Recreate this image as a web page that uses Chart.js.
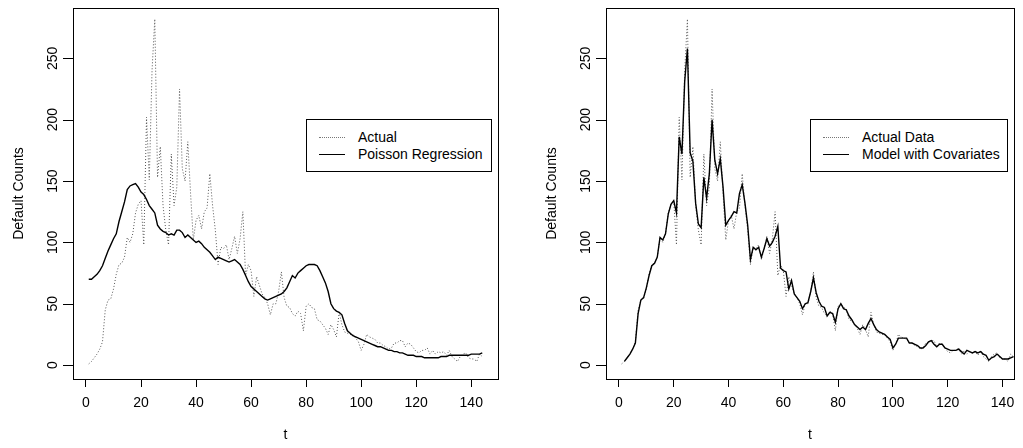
<!DOCTYPE html>
<html>
<head>
<meta charset="utf-8">
<script src="https://cdn.jsdelivr.net/npm/chart.js@4.4.0/dist/chart.umd.min.js"></script>
<style>
  html, body { margin: 0; padding: 0; background: #fff; }
  #wrap { position: relative; width: 1023px; height: 448px; overflow: hidden; font-family: "Liberation Sans", Arial, sans-serif; }
  .pane { position: absolute; top: 0; width: 512px; height: 448px; }
  .legend { position: absolute; box-sizing: border-box; border: 1px solid #000; background: #fff; font-size: 14px; color: #000; }
  .legend .row { position: absolute; white-space: nowrap; line-height: 16px; }
  .legend .sample { position: absolute; width: 26px; height: 0; }
  .legend .dots { border-top: 1px dotted #777; }
  .legend .solid { border-top: 1px solid #000; }
</style>
</head>
<body>
<div id="wrap">
  <div class="pane" style="left:0"><canvas id="left"></canvas></div>
  <div class="pane" style="left:511px"><canvas id="right"></canvas></div>

  <div class="legend" style="left:306px; top:119px; width:186px; height:53px;">
    <div class="sample dots" style="left:12px; top:17px;"></div>
    <div class="row" style="left:51px; top:9px;">Actual</div>
    <div class="sample solid" style="left:12px; top:34px;"></div>
    <div class="row" style="left:51px; top:26px;">Poisson Regression</div>
  </div>

  <div class="legend" style="left:810px; top:119px; width:198px; height:53px;">
    <div class="sample dots" style="left:12px; top:17px;"></div>
    <div class="row" style="left:51px; top:9px;">Actual Data</div>
    <div class="sample solid" style="left:12px; top:34px;"></div>
    <div class="row" style="left:51px; top:26px;">Model with Covariates</div>
  </div>
</div>

<script>
// monthly default counts, t = 1..144
const actual = [
  1, 3, 6, 9, 13, 19, 45, 53, 54, 62,
  74, 82, 83, 88, 104, 100, 107, 124, 131, 134,
  98, 202, 151, 240, 282, 153, 178, 130, 110, 98,
  172, 130, 145, 225, 160, 150, 182, 140, 102, 118,
  122, 111, 125, 128, 156, 130, 110, 82, 96, 95,
  98, 86, 95, 105, 91, 103, 125, 73, 82, 77,
  56, 72, 65, 58, 55, 50, 41, 50, 50, 60,
  76, 55, 48, 47, 42, 40, 44, 42, 28, 48,
  50, 47, 46, 37, 36, 33, 30, 25, 33, 29,
  23, 43, 33, 27, 26, 25, 25, 22, 19, 12,
  17, 25, 23, 22, 21, 18, 18, 16, 15, 13,
  14, 18, 18, 20, 20, 15, 18, 17, 14, 11,
  10, 12, 12, 14, 9, 12, 9, 11, 10, 11,
  8, 12, 7, 5, 3, 7, 9, 10, 6, 5,
  5, 3, 9, 7
];

// fitted Poisson regression, t = 1..144
const poisson = [
  70, 70, 72, 74, 77, 81, 87, 93, 98, 103,
  107, 117, 125, 133, 143, 146, 147, 148, 145, 141,
  139, 135, 130, 127, 124, 114, 111, 109, 108, 106,
  107, 106, 110, 110, 108, 104, 106, 104, 102, 100,
  101, 99, 96, 94, 92, 89, 86, 88, 87, 86,
  85, 84, 85, 86, 84, 82, 78, 73, 68, 64,
  62, 60, 58, 56, 54, 53, 54, 55, 56, 57,
  58, 60, 63, 68, 73, 71, 75, 77, 79, 81,
  82, 82, 82, 81, 77, 72, 67, 60, 50, 46,
  44, 43, 41, 34, 28, 26, 24, 23, 22, 21,
  20, 19, 18, 17, 16, 15, 15, 14, 13, 12,
  12, 11, 11, 10, 10, 9, 8, 8, 8, 7,
  7, 7, 6, 6, 6, 6, 6, 6, 7, 7,
  7, 8, 8, 8, 8, 8, 8, 8, 8, 9,
  9, 9, 9, 10
];

// model with covariates, starts at t = 2
const covStart = 2;
const covariates = [
  3, 6, 9, 13, 18, 42, 53, 55, 63,
  73, 81, 83, 88, 104, 102, 107, 123, 131, 134,
  124, 186, 172, 231, 258, 173, 166, 132, 115, 112,
  153, 136, 156, 200, 167, 156, 168, 145, 114, 118,
  121, 125, 124, 140, 147, 132, 114, 86, 96, 94,
  96, 88, 95, 103, 97, 100, 105, 113, 79, 77,
  76, 62, 69, 58, 55, 52, 46, 50, 51, 60,
  71, 59, 52, 48, 47, 40, 43, 42, 35, 46,
  50, 46, 45, 40, 37, 33, 31, 29, 31, 29,
  34, 38, 33, 29, 27, 26, 25, 23, 21, 14,
  17, 22, 22, 22, 22, 18, 18, 17, 16, 14,
  14, 16, 19, 20, 17, 15, 17, 17, 14, 13,
  12, 12, 12, 13, 11, 9, 12, 11, 10, 11,
  10, 11, 9, 8, 4, 6, 7, 9, 7, 5,
  5, 5, 6, 7
];

const xTicks = [0, 20, 40, 60, 80, 100, 120, 140];
const yTicks = [0, 50, 100, 150, 200, 250];

function toPoints(values, start) {
  const pts = [];
  for (let i = 0; i < values.length; i++) pts.push({ x: start + i, y: values[i] });
  return pts;
}

const FONT = "'Liberation Sans', Arial, sans-serif";

// box round the plot region + R style rotated y labels
const boxPlugin = {
  id: "rbox",
  afterDraw(chart, args, opts) {
    const a = chart.chartArea;
    const ctx = chart.ctx;
    const ys = chart.scales.y;
    ctx.save();
    ctx.strokeStyle = "#000";
    ctx.lineWidth = 1;
    ctx.strokeRect(Math.round(a.left) + 0.5, Math.round(a.top) + 0.5,
      Math.round(a.right - a.left), Math.round(a.bottom - a.top));

    const x0 = Math.round(a.left) - opts.tickGap;
    ctx.beginPath();
    yTicks.forEach(v => {
      const py = Math.round(ys.getPixelForValue(v)) + 0.5;
      ctx.moveTo(x0, py);
      ctx.lineTo(x0 - opts.tickLen, py);
    });
    ctx.stroke();

    ctx.fillStyle = "#000";
    ctx.font = "14px " + FONT;
    ctx.textAlign = "center";
    ctx.textBaseline = "bottom";
    yTicks.forEach(v => {
      const py = ys.getPixelForValue(v);
      ctx.save();
      ctx.translate(x0 - opts.labelGap, py);
      ctx.rotate(-Math.PI / 2);
      ctx.fillText(String(v), 0, 0);
      ctx.restore();
    });
    ctx.restore();
  }
};

function makeChart(id, datasets, p) {
  const canvas = document.getElementById(id);
  canvas.width = 512;
  canvas.height = 448;
  return new Chart(canvas, {
    type: "line",
    data: { datasets },
    options: {
      responsive: false,
      animation: false,
      events: [],
      layout: { padding: { top: 8, right: p.padRight, left: 0, bottom: 0 } },
      plugins: {
        legend: { display: false },
        tooltip: { enabled: false },
        rbox: { tickGap: p.tickGap, tickLen: 10, labelGap: p.labelGap }
      },
      elements: { point: { radius: 0 }, line: { tension: 0 } },
      scales: {
        x: {
          type: "linear",
          min: -4.72,
          max: p.xMax,
          afterFit(s) { s.height = 69; },
          afterBuildTicks(s) { s.ticks = xTicks.map(v => ({ value: v })); },
          ticks: { includeBounds: false, color: "#000", padding: 8, maxRotation: 0,
                   font: { family: FONT, size: 14 } },
          grid: { drawOnChartArea: false, drawTicks: true, tickLength: 8, color: "#000" },
          border: { display: false },
          title: { display: true, text: "t", color: "#000", padding: { top: 12 },
                   font: { family: FONT, size: 14 } }
        },
        y: {
          type: "linear",
          min: -11.3,
          max: 291,
          afterFit(s) { s.width = p.yWidth; },
          afterBuildTicks(s) { s.ticks = yTicks.map(v => ({ value: v })); },
          ticks: { display: false },
          grid: { display: false },
          border: { display: false },
          title: { display: true, text: "Default Counts", color: "#000",
                   padding: { top: p.titlePad, bottom: 0 },
                   font: { family: FONT, size: 14 } }
        }
      }
    },
    plugins: [boxPlugin]
  });
}

const solidStyle = { borderColor: "#000", borderWidth: 1.4, pointRadius: 0, fill: false };
const dotStyle = { borderColor: "#555", borderWidth: 1, borderDash: [1, 2], pointRadius: 0, fill: false };

makeChart("left", [
  Object.assign({ label: "Poisson Regression", data: toPoints(poisson, 1) }, solidStyle),
  Object.assign({ label: "Actual", data: toPoints(actual, 1) }, dotStyle)
], { yWidth: 73, padRight: 14, xMax: 149.72, tickGap: 0, labelGap: 13, titlePad: 11 });

makeChart("right", [
  Object.assign({ label: "Model with Covariates", data: toPoints(covariates, covStart) }, solidStyle),
  Object.assign({ label: "Actual Data", data: toPoints(actual, 1) }, dotStyle)
], { yWidth: 95, padRight: 9, xMax: 144.2, tickGap: 0, labelGap: 13, titlePad: 33 });
</script>
</body>
</html>
